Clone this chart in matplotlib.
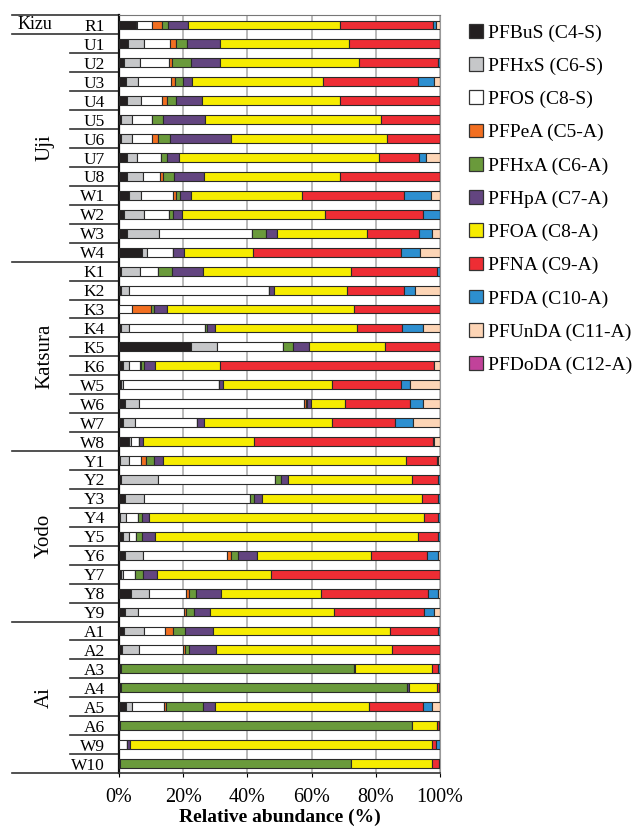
import numpy as np
import matplotlib
matplotlib.use("Agg")
import matplotlib.pyplot as plt
from matplotlib.patches import Patch
import matplotlib.transforms as mtransforms

plt.rcParams['font.family'] = ['Liberation Serif', 'DejaVu Serif']

samples = ["R1", "U1", "U2", "U3", "U4", "U5", "U6", "U7", "U8", "W1", "W2", "W3", "W4",
           "K1", "K2", "K3", "K4", "K5", "K6", "W5", "W6", "W7", "W8",
           "Y1", "Y2", "Y3", "Y4", "Y5", "Y6", "Y7", "Y8", "Y9",
           "A1", "A2", "A3", "A4", "A5", "A6", "W9", "W10"]

compounds = ["PFBuS (C4-S)", "PFHxS (C6-S)", "PFOS (C8-S)", "PFPeA (C5-A)", "PFHxA (C6-A)",
             "PFHpA (C7-A)", "PFOA (C8-A)", "PFNA (C9-A)", "PFDA (C10-A)", "PFUnDA (C11-A)",
             "PFDoDA (C12-A)"]

# relative abundance (%) per compound, in sample order
PFBuS = [5.3, 2.9, 1.7, 2.1, 2.4, 0.6, 0.6, 2.6, 2.6, 3.2, 1.7, 2.4, 7.3,
         0.6, 0.6, 0.0, 0.6, 22.4, 1.4, 0.5, 2.0, 1.4, 3.1,
         0.3, 0.7, 1.8, 0.4, 1.3, 1.8, 0.6, 3.6, 1.9,
         1.7, 1.0, 0.6, 0.5, 2.1, 0.3, 0.0, 0.4]
PFHxS = [0.4, 4.9, 4.9, 3.7, 4.5, 3.3, 3.6, 2.9, 4.8, 3.8, 6.1, 10.2, 1.5,
         5.9, 2.4, 0.0, 2.4, 8.1, 1.7, 0.9, 4.2, 3.5, 0.5,
         2.7, 11.6, 6.0, 1.9, 1.7, 5.8, 0.5, 5.9, 3.9,
         6.1, 5.1, 0.0, 0.0, 1.9, 0.0, 0.0, 0.0]
PFOS = [4.7, 8.1, 9.0, 10.3, 6.6, 6.4, 6.1, 7.7, 5.5, 9.8, 7.8, 28.8, 8.1,
        5.8, 43.7, 3.9, 23.7, 20.5, 3.3, 29.6, 51.4, 19.3, 2.7,
        3.7, 36.3, 33.1, 3.5, 2.3, 26.2, 3.9, 11.4, 14.5,
        6.4, 13.7, 0.0, 0.0, 10.0, 0.0, 2.4, 0.0]
PFPeA = [2.9, 1.9, 0.8, 1.3, 1.3, 0.0, 1.7, 0.0, 0.7, 0.9, 0.0, 0.0, 0.0,
         0.0, 0.0, 6.2, 0.0, 0.0, 0.6, 0.0, 0.5, 0.0, 0.0,
         1.6, 0.0, 0.0, 0.0, 0.0, 1.0, 0.0, 0.9, 0.7,
         2.7, 0.8, 0.0, 0.0, 0.7, 0.0, 0.0, 0.0]
PFHxA = [1.9, 3.3, 5.9, 2.6, 3.0, 3.5, 3.9, 1.7, 3.5, 1.3, 1.3, 4.5, 0.0,
         4.2, 0.0, 0.8, 0.8, 3.3, 0.9, 0.0, 0.6, 0.0, 0.0,
         2.5, 1.8, 1.2, 1.5, 1.9, 2.3, 2.5, 2.2, 2.3,
         3.8, 1.3, 72.7, 89.1, 11.6, 91.1, 0.0, 71.8]
PFHpA = [6.2, 10.5, 9.2, 2.7, 8.1, 13.1, 19.1, 3.9, 9.4, 3.3, 2.6, 3.3, 3.4,
         9.6, 1.5, 4.0, 2.5, 5.0, 3.2, 1.5, 1.1, 2.4, 1.2,
         2.8, 2.2, 2.5, 2.0, 3.9, 5.9, 4.2, 7.8, 5.0,
         8.5, 8.2, 0.3, 0.8, 3.6, 0.0, 1.0, 0.0]
PFOA = [47.5, 39.9, 43.4, 40.9, 42.9, 54.8, 48.4, 62.1, 42.3, 34.7, 44.8, 28.2, 21.6,
        46.1, 22.7, 58.3, 44.0, 23.7, 20.4, 33.7, 10.7, 39.7, 34.6,
        75.7, 38.7, 49.8, 85.8, 82.1, 35.4, 35.8, 31.0, 38.6,
        55.2, 54.9, 23.9, 8.7, 48.1, 7.7, 94.1, 25.3]
PFNA = [28.8, 28.5, 24.5, 29.6, 31.2, 18.3, 16.6, 12.7, 31.2, 31.9, 30.5, 16.2, 45.8,
        27.0, 17.8, 26.8, 14.1, 17.0, 66.6, 21.5, 20.1, 19.6, 55.7,
        9.8, 8.0, 4.9, 4.4, 6.1, 17.5, 52.5, 33.4, 28.0,
        15.0, 15.0, 1.8, 0.6, 16.6, 0.6, 1.2, 2.2]
PFDA = [0.9, 0.0, 0.6, 5.0, 0.0, 0.0, 0.0, 2.1, 0.0, 8.3, 5.2, 3.9, 6.0,
        0.8, 3.4, 0.0, 6.5, 0.0, 0.0, 3.0, 4.0, 5.8, 0.4,
        0.4, 0.7, 0.7, 0.5, 0.7, 3.5, 0.0, 3.1, 3.2,
        0.6, 0.0, 0.7, 0.3, 3.0, 0.3, 1.3, 0.3]
PFUnDA = [1.4, 0.0, 0.0, 1.8, 0.0, 0.0, 0.0, 4.3, 0.0, 2.8, 0.0, 2.5, 6.3,
          0.0, 7.9, 0.0, 5.4, 0.0, 1.9, 9.3, 5.4, 8.3, 1.8,
          0.5, 0.0, 0.0, 0.0, 0.0, 0.6, 0.0, 0.7, 1.9,
          0.0, 0.0, 0.0, 0.0, 2.4, 0.0, 0.0, 0.0]
PFDoDA = [0.0] * 40

series = [PFBuS, PFHxS, PFOS, PFPeA, PFHxA, PFHpA, PFOA, PFNA, PFDA, PFUnDA, PFDoDA]
colors = ["#231f20", "#c6c7c9", "#ffffff", "#f26f21", "#6a9a3b", "#634580", "#f6ec00",
          "#ee2d34", "#2d8fd0", "#fdd5b6", "#c1429a"]

groups = ["Kizu", "Uji", "Katsura", "Yodo", "Ai"]
group_rows = [(0, 0), (1, 12), (13, 22), (23, 31), (32, 39)]

fig = plt.figure(figsize=(6.36, 8.30), dpi=100)
ax = fig.add_axes([119 / 636, 1 - 773 / 830, 321 / 636, (773 - 15.5) / 830])

y = np.arange(len(samples))
left = np.zeros(len(samples))
for vals, col in zip(series, colors):
    v = np.array(vals)
    ax.barh(y, v, left=left, height=0.47, color=col, edgecolor="#2a2a2a", linewidth=0.8, zorder=3)
    left += v

ax.set_xlim(0, 100)
ax.set_ylim(len(samples) - 0.5, -0.5)
ax.set_xticks([0, 20, 40, 60, 80, 100])
ax.set_xticklabels(["0%", "20%", "40%", "60%", "80%", "100%"], fontsize=14.5)
ax.set_yticks(y)
ax.set_yticklabels(samples, fontsize=12.5)
ax.tick_params(axis="y", length=0, pad=10)
ax.tick_params(axis="x", length=3, pad=8, direction="out")
ax.xaxis.grid(True, color="#b4b4b4", linewidth=1.3, zorder=0)
ax.set_axisbelow(True)
ax.spines["left"].set_linewidth(1.6)
ax.spines["left"].set_color("#111111")
ax.spines["bottom"].set_linewidth(1.2)
ax.spines["bottom"].set_color("#333333")
ax.spines["top"].set_color("#777777")
ax.spines["right"].set_color("#999999")
ax.set_xlabel("Relative abundance (%)", fontsize=14, fontweight="bold", labelpad=1)

trans = mtransforms.blended_transform_factory(ax.transAxes, ax.transData)
group_edges = {-0.5, 0.5, 12.5, 22.5, 31.5, 39.5}
for b in np.arange(-0.5, len(samples), 1.0):
    x0 = -0.333 if b in group_edges else -0.153
    ax.plot([x0, 0], [b, b], transform=trans, color="#333333", linewidth=1.2, clip_on=False)

for name, (r0, r1) in zip(groups, group_rows):
    yc = (r0 + r1) / 2
    if name == "Kizu":
        ax.text(-0.262, yc, name, transform=trans, ha="center", va="center", fontsize=13)
    else:
        ax.text(-0.232, yc, name, transform=trans, ha="center", va="center",
                fontsize=15, rotation=90)

handles = [Patch(facecolor=c, edgecolor="#333333", linewidth=0.9) for c in colors]
fig.legend(handles, compounds, loc="upper left", bbox_to_anchor=(469 / 636, 1 - 24 / 830),
           frameon=False, fontsize=14, handlelength=0.7, handleheight=0.7,
           handletextpad=0.3, labelspacing=0.8, borderpad=0, borderaxespad=0)

fig.savefig("out.png", dpi=100)
